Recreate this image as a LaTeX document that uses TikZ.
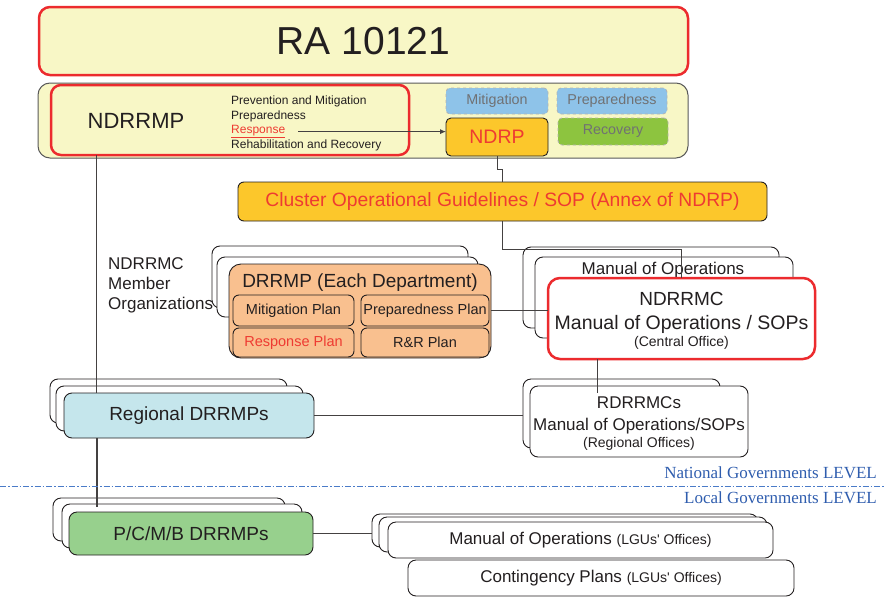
\documentclass[tikz,border=0pt]{standalone}
\usepackage{fontspec}
\setmainfont{Liberation Sans}
\newfontfamily\timesf{Liberation Serif}
\usetikzlibrary{calc,arrows.meta}
\definecolor{ylw}{HTML}{F8F7C6}
\definecolor{redb}{HTML}{EC2B2E}
\definecolor{redt}{HTML}{EE3B32}
\definecolor{gold}{HTML}{FCC72B}
\definecolor{peach}{HTML}{F9C08F}
\definecolor{lblue}{HTML}{C5E6EC}
\definecolor{pcgreen}{HTML}{97D08D}
\definecolor{mitb}{HTML}{8EC3E9}
\definecolor{recg}{HTML}{8DC43F}
\definecolor{grayt}{HTML}{707173}
\definecolor{dk}{HTML}{231F20}
\definecolor{lvl}{HTML}{2F5DAE}
\definecolor{lvlline}{HTML}{4A7BC8}
\begin{document}
\begin{tikzpicture}[x=1pt,y=-1pt,
  every node/.style={text=dk},
  box/.style={draw=dk, line width=0.9pt, rounded corners=8pt, fill=white, anchor=north west, inner sep=0pt, outer sep=0pt},
  redbox/.style={box, draw=redb, line width=2.5pt},
  dashbox/.style={box, draw=gray!60, dashed, line width=0.8pt, rounded corners=4pt, font=\fontsize{14.3}{17}\selectfont, text=grayt},
  conn/.style={draw=dk!85, line width=0.9pt},
  txt/.style={inner sep=0pt, anchor=base},
  f12/.style={font=\fontsize{12}{14}\selectfont},
  f14/.style={font=\fontsize{14}{17}\selectfont},
  f145/.style={font=\fontsize{14.5}{17}\selectfont},
  f17/.style={font=\fontsize{17}{20}\selectfont},
  f19/.style={font=\fontsize{19}{23}\selectfont}]
\useasboundingbox (0,0) rectangle (885,597);

% ---- top
\node[redbox, fill=ylw, rounded corners=11pt, minimum width=649pt, minimum height=68pt, font=\fontsize{39}{46}\selectfont] (ra) at (39,7) {RA 10121};
\node[box, draw=gray!70!black, line width=1pt, fill=ylw, rounded corners=12pt, minimum width=650pt, minimum height=75pt] (cont) at (38,83) {};
\node[redbox, fill=ylw, rounded corners=10pt, minimum width=358pt, minimum height=70pt] (ndrrmp) at (51,85) {};
\node[txt, font=\fontsize{22}{26}\selectfont] (ndrrmpt) at (136,128) {NDRRMP};
\node[txt, anchor=base west, f12] (l1) at (231,104.5) {Prevention and Mitigation};
\node[txt, anchor=base west, f12] (l2) at (231,119) {Preparedness};
\node[txt, anchor=base west, f12, text=redt] (resp) at (231,133.5) {\underline{Response}};
\node[txt, anchor=base west, f12] (l4) at (231,148) {Rehabilitation and Recovery};

\node[dashbox, fill=mitb, minimum width=102pt, minimum height=26pt] (mit) at (446,88) {Mitigation};
\node[dashbox, fill=mitb, minimum width=110pt, minimum height=26pt] (prep) at (557,88) {Preparedness};
\node[dashbox, fill=recg, minimum width=110pt, minimum height=27pt] (rec) at (558,118) {Recovery};
\node[box, fill=gold, rounded corners=5pt, minimum width=102pt, minimum height=38pt, font=\fontsize{19.5}{23}\selectfont, text=redt] (ndrp) at (446,118) {NDRP};

\node[box, fill=gold, rounded corners=6pt, minimum width=529pt, minimum height=39pt, font=\fontsize{19.3}{23}\selectfont, text=redt] (cluster) at (238,182) {Cluster Operational Guidelines / SOP (Annex of NDRP)};

% ---- member organisations
\node[inner sep=0pt, anchor=north west, align=left, f17] (member) at (108,257) {NDRRMC\\Member\\Organizations};

% ---- back boxes
\node[box, minimum width=256pt, minimum height=62pt] (drb1) at (212,246) {};
\node[box, minimum width=261pt, minimum height=60pt] (drb2) at (217,257) {};
\node[box, minimum width=256pt, minimum height=81pt] (mob1) at (523,247) {};
\node[box, minimum width=258pt, minimum height=81pt] (mob2) at (535,257) {};
\node[txt, f17] (mobt) at (663,274) {Manual of Operations};
\node[box, minimum width=237pt, minimum height=44pt] (regb1) at (50,379) {};
\node[box, minimum width=247pt, minimum height=45pt] (regb2) at (56,386) {};
\node[box, minimum width=197pt, minimum height=69pt] (rdb) at (523,379) {};
\node[box, minimum width=232pt, minimum height=43pt] (pcb1) at (53,498) {};
\node[box, minimum width=240pt, minimum height=44pt] (pcb2) at (62,504) {};
\node[box, minimum width=386pt, minimum height=33pt] (lgub1) at (372,514) {};
\node[box, minimum width=388pt, minimum height=35pt] (lgub2) at (379,517) {};

% ---- front boxes
\node[box, fill=peach, rounded corners=12pt, minimum width=262pt, minimum height=94pt] (drf) at (229,264) {};
\node[txt, f19] (drt) at (360,287) {DRRMP (Each Department)};
\node[box, fill=peach, rounded corners=6pt, minimum width=121pt, minimum height=31pt, f145] (mitp) at (233,295) {Mitigation Plan};
\node[box, fill=peach, rounded corners=6pt, minimum width=128pt, minimum height=31pt, f145] (prepp) at (361,295) {Preparedness Plan};
\node[box, fill=peach, rounded corners=6pt, minimum width=121pt, minimum height=29pt, f145, text=redt] (respp) at (233,328) {Response Plan};
\node[box, fill=peach, rounded corners=6pt, minimum width=128pt, minimum height=29pt, f145] (rrp) at (361,328) {R\&R Plan};

\node[redbox, rounded corners=12pt, minimum width=267pt, minimum height=81pt] (ndrrmc) at (548,278) {};
\node[txt, font=\fontsize{19}{23}\selectfont] (nc1) at (681.5,305) {NDRRMC};
\node[txt, font=\fontsize{19.5}{23}\selectfont] (nc2) at (681.5,329) {Manual of Operations / SOPs};
\node[txt, f14] (nc3) at (681.5,346) {(Central Office)};

\node[box, fill=lblue, minimum width=250pt, minimum height=45pt, f19] (regf) at (64,393) {Regional DRRMPs};
\node[box, minimum width=218pt, minimum height=71pt] (rdf) at (530,386) {};
\node[txt, f17] (rd1) at (639,408) {RDRRMCs};
\node[txt, f17] (rd2) at (639,430) {Manual of Operations/SOPs};
\node[txt, f14] (rd3) at (639,447) {(Regional Offices)};

\node[box, fill=pcgreen, minimum width=244pt, minimum height=43pt, f19] (pcf) at (69,512) {P/C/M/B DRRMPs};
\node[box, minimum width=385pt, minimum height=36pt] (lguf) at (388,522) {\fontsize{17}{20}\selectfont Manual of Operations {\fontsize{14}{17}\selectfont (LGUs\textquotesingle\ Offices)}};
\node[box, minimum width=386pt, minimum height=36pt] (cp) at (408,560) {\fontsize{17}{20}\selectfont Contingency Plans {\fontsize{14}{17}\selectfont (LGUs\textquotesingle\ Offices)}};

% ---- connectors
\draw[conn, -{Latex[length=6pt,width=5pt]}] ([xshift=13pt]resp.east) -- (resp.east -| ndrp.west);
\draw[conn] (ndrp.south) -- ++(0,13) -- ++(5,0) -- ([xshift=5pt]ndrp.south |- cluster.north);
\draw[conn] ([xshift=5pt]ndrp.south |- cluster.south) -- ++(0,28) -| ([xshift=133pt]ndrrmc.north west);
\draw[conn] ([xshift=45pt]ndrrmp.south west) -- ([xshift=45pt]ndrrmp.south west |- regf.north);
\draw[conn, line width=1.6pt] ([xshift=33pt]regf.south west) -- ([xshift=33pt,yshift=-3pt]regf.south west |- pcb2.north);
\draw[conn] (prepp.east -| drf.east) -- (prepp.east -| ndrrmc.west);
\draw[conn] (regf.east) -- (regf.east -| rdb.west);
\draw[conn] (pcf.east) -- (pcf.east -| lgub1.west);
\draw[conn] ([xshift=49pt]ndrrmc.south west) -- ([xshift=49pt,yshift=-7pt]ndrrmc.south west |- rdf.north);

% ---- level divider
\coordinate (dl) at (0,486);
\coordinate (dr) at (885,486);
\draw[draw=lvlline, line width=1pt, dash pattern=on 6pt off 2pt on 1.5pt off 2pt] (dl) -- (dr);
\node[txt, anchor=base east, font=\timesf\fontsize{17}{20}\selectfont, text=lvl] (nat) at (877,478) {National Governments LEVEL};
\node[txt, anchor=base east, font=\timesf\fontsize{17}{20}\selectfont, text=lvl] (loc) at (877,503) {Local Governments LEVEL};
\end{tikzpicture}
\end{document}
